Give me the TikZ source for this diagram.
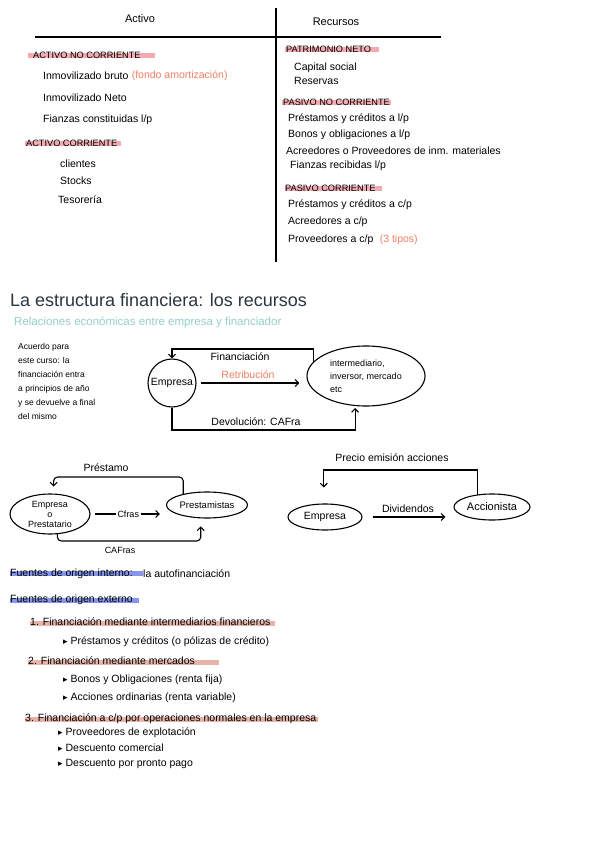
\documentclass[tikz,border=0pt]{standalone}
\usepackage{fontspec}
\setmainfont{Liberation Sans}
\newfontfamily\symfont{DejaVu Sans}
\usetikzlibrary{positioning, arrows.meta, shapes.geometric, backgrounds}

\definecolor{hlpink}{HTML}{F4AAB1}
\definecolor{hlsalmon}{HTML}{E8B4AA}
\definecolor{hlblue}{HTML}{8696EE}
\definecolor{noteorange}{HTML}{F07F62}
\definecolor{titleink}{HTML}{2B3640}
\definecolor{subteal}{HTML}{94D0C4}

\newcommand{\bulletmark}{{\symfont\small ▸}}

\begin{document}
\begin{tikzpicture}[x=1pt, y=-1pt,
    every node/.style={font=\fontsize{10.5}{12}\selectfont},
    txt/.style={anchor=west, inner sep=0pt},
    caps/.style={txt, font=\fontsize{9.2}{10}\selectfont},
    colhead/.style={font=\fontsize{11}{13}\selectfont},
    note/.style={txt, text=noteorange},
    bubble/.style={draw, line width=1.1pt, ellipse, inner sep=0pt, align=center},
    arr/.style={-{Straight Barb[length=3.5pt, width=7pt]}, line width=1.1pt},
    lbl/.style={inner sep=1pt},
    rule/.style={line width=1.2pt},
]
\useasboundingbox (0,0) rectangle (600,848);

% --- Activo / Recursos table ---
\node[colhead] (activo)   at (140,19) {Activo};
\node[colhead] (recursos) at (336,22) {Recursos};
\draw[rule] (35,37) -- (441,37);
\draw[rule] (276,8) -- (276,262);

\node[caps] (anc)       at (33,55)  {ACTIVO NO CORRIENTE};
\node[txt]  (ibruto)    at (43,76)  {Inmovilizado bruto};
\node[note, right=3pt of ibruto] (fondo) {(fondo amortización)};
\node[txt]  (ineto)     at (43,98)  {Inmovilizado Neto};
\node[txt]  (fianzas)   at (43,120) {Fianzas constituidas l/p};
\node[caps] (acorr)     at (26,143) {ACTIVO CORRIENTE};
\node[txt]  (clientes)  at (60,164) {clientes};
\node[txt]  (stocks)    at (60,181) {Stocks};
\node[txt]  (tesoreria) at (58,200) {Tesorería};

\node[caps] (pneto)    at (286,49)  {PATRIMONIO NETO};
\node[txt]  (capital)  at (294,68)  {Capital social};
\node[txt]  (reservas) at (294,81)  {Reservas};
\node[caps] (pnc)      at (283,102) {PASIVO NO CORRIENTE};
\node[txt]  (prlp)     at (288,119) {Préstamos y créditos a l/p};
\node[txt]  (bonos)    at (288,135) {Bonos y obligaciones a l/p};
\node[txt]  (acreed)   at (286,151) {Acreedores o Proveedores de inm. materiales};
\node[txt]  (firec)    at (290,166) {Fianzas recibidas l/p};
\node[caps] (pcorr)    at (285,188) {PASIVO CORRIENTE};
\node[txt]  (prcp)     at (288,205) {Préstamos y créditos a c/p};
\node[txt]  (accp)     at (288,222) {Acreedores a c/p};
\node[txt]  (provcp)   at (288,240) {Proveedores a c/p};
\node[note, right=6pt of provcp] (tipos) {(3 tipos)};

% --- Title ---
\node[txt, font=\fontsize{18}{21}\selectfont, text=titleink] (titulo) at (10,300) {La estructura financiera: los recursos};
\node[txt, font=\fontsize{11.5}{14}\selectfont, text=subteal] (subtit) at (14,322) {Relaciones económicas entre empresa y financiador};

% --- Empresa / financiador ---
\node[anchor=north west, inner sep=0pt, align=left, font=\fontsize{8.5}{14}\selectfont] (acuerdo) at (18,343)
  {Acuerdo para\\ este curso: la\\ financiación entra\\ a principios de año\\ y se devuelve a final\\ del mismo};
\node[draw, circle, line width=1.1pt, inner sep=0pt, minimum size=48pt] (emp) at (172,383) {Empresa};
\node[bubble, minimum width=118pt, minimum height=60pt, align=left, font=\fontsize{9}{13}\selectfont] (inter) at (366,376)
  {intermediario,\\ inversor, mercado\\ etc};
\node[lbl] (fin) at (240,357) {Financiación};
\node[lbl, text=noteorange] (retrib) at (248,375) {Retribución};
\node[lbl] (devol) at (256,422) {Devolución: CAFra};
\coordinate (fintop) at (172,349);
\coordinate (devbot) at (250,430);
\draw[arr] (inter.165) |- (fintop) -- (emp.north);
\draw[arr, shorten <=4pt, shorten >=7pt] (emp.east) -- (emp.east -| inter.west);
\draw[arr, shorten >=2pt] (emp.south) |- (devbot) -| (inter.250);

% --- Prestamo ---
\node[bubble, minimum width=80pt, minimum height=40pt, font=\fontsize{9}{10}\selectfont] (eop) at (50,514) {Empresa\\ o\\ Prestatario};
\node[bubble, minimum width=81pt, minimum height=26pt, font=\fontsize{9.5}{11}\selectfont] (prest) at (207,505) {Prestamistas};
\node[lbl] (prestamo) at (106,468) {Préstamo};
\coordinate (pmtop) at (110,477);
\coordinate (cafbot) at (120,541);
\draw[arr, shorten >=7pt, rounded corners=4pt] (prest.155) |- (pmtop) -| (eop.80);
\draw[arr, shorten <=4pt, shorten >=6pt] (eop.east) -- (eop.east -| prest.west)
  node[midway, fill=white, inner sep=2pt, font=\fontsize{9}{11}\selectfont] (cfras) {Cfras};
\draw[arr, shorten >=8pt, rounded corners=4pt] (eop.290) |- (cafbot) -| (prest.245);
\node[lbl, font=\fontsize{9}{11}\selectfont] (cafras) at (120,550) {CAFras};

% --- Accionista ---
\node[bubble, minimum width=74pt, minimum height=26pt] (emp3) at (325,517) {Empresa};
\node[bubble, minimum width=76pt, minimum height=26pt, font=\fontsize{11}{13}\selectfont] (accion) at (492,507) {Accionista};
\node[lbl] (precio) at (392,458) {Precio emisión acciones};
\coordinate (pctop) at (400,470);
\draw[arr, shorten >=16pt] (accion.140) |- (pctop) -| (emp3.95);
\draw[arr, shorten <=10pt, shorten >=8pt] (emp3.east) -- (emp3.east -| accion.west)
  node[midway, above=1pt] (divid) {Dividendos};

% --- Fuentes ---
\node[txt] (finterno) at (10,574) {Fuentes de origen interno:};
\node[txt, right=10pt of finterno] (autofin) {la autofinanciación};
\node[txt] (fexterno) at (10,600) {Fuentes de origen externo};
\node[txt] (f1)  at (30,622) {1. Financiación mediante intermediarios financieros};
\node[txt] (f1a) at (63,642) {\bulletmark\ Préstamos y créditos (o pólizas de crédito)};
\node[txt] (f2)  at (28,661) {2. Financiación mediante mercados};
\node[txt] (f2a) at (63,680) {\bulletmark\ Bonos y Obligaciones (renta fija)};
\node[txt] (f2b) at (63,698) {\bulletmark\ Acciones ordinarias (renta variable)};
\node[txt] (f3)  at (25,719) {3. Financiación a c/p por operaciones normales en la empresa};
\node[txt] (f3a) at (58,733) {\bulletmark\ Proveedores de explotación};
\node[txt] (f3b) at (58,748) {\bulletmark\ Descuento comercial};
\node[txt] (f3c) at (58,764) {\bulletmark\ Descuento por pronto pago};

% --- highlights ---
\begin{scope}[on background layer]
\fill[white] (0,0) rectangle (600,848);
\fill[hlpink] ([xshift=-5pt, yshift=0pt]anc.base west)   rectangle ([xshift=14pt, yshift=5pt]anc.base east);
\fill[hlpink] ([xshift=-1pt, yshift=0pt]acorr.base west) rectangle ([xshift=4pt, yshift=5pt]acorr.base east);
\fill[hlpink] ([xshift=-1pt, yshift=0pt]pneto.base west) rectangle ([xshift=8pt, yshift=5pt]pneto.base east);
\fill[hlpink] ([xshift=-1pt, yshift=0pt]pnc.base west)   rectangle ([xshift=1pt, yshift=5pt]pnc.base east);
\fill[hlpink] ([xshift=0pt, yshift=0pt]pcorr.base west)  rectangle ([xshift=6pt, yshift=5pt]pcorr.base east);
\fill[hlblue] ([yshift=1pt]finterno.base west) rectangle ([xshift=10pt, yshift=6pt]finterno.base east);
\fill[hlblue] ([yshift=0pt]fexterno.base west) rectangle ([xshift=6pt, yshift=5pt]fexterno.base east);
\fill[hlsalmon] ([yshift=0pt]f1.base west) rectangle ([xshift=4pt, yshift=5pt]f1.base east);
\fill[hlsalmon] ([yshift=0pt]f2.base west) rectangle ([xshift=24pt, yshift=5pt]f2.base east);
\fill[hlsalmon] ([yshift=0pt]f3.base west) rectangle ([xshift=2pt, yshift=5pt]f3.base east);
\end{scope}
\end{tikzpicture}
\end{document}
